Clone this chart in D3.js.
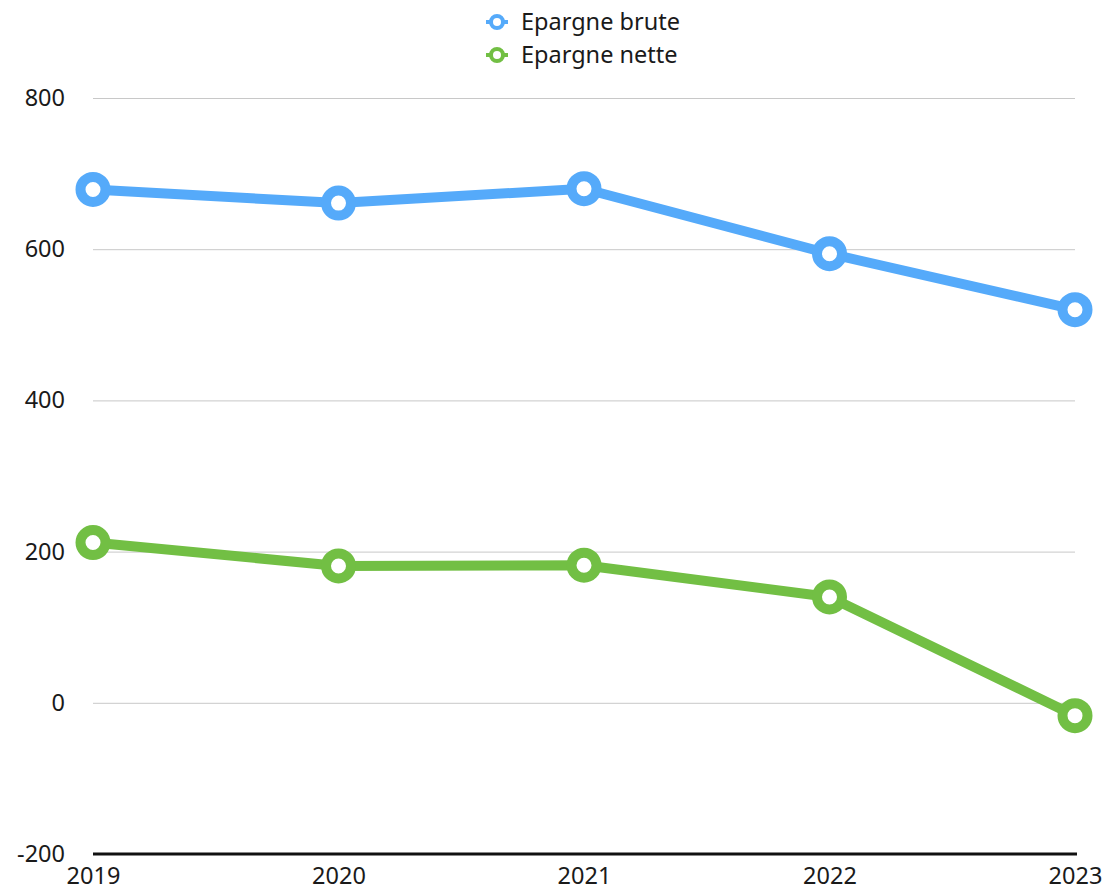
<!DOCTYPE html>
<html>
<head>
<meta charset="utf-8">
<script src="https://cdn.jsdelivr.net/npm/d3@7"></script>
<style>
	body { margin: 0; background: #fff; }
	text { font-family: "Noto Sans", "Open Sans", sans-serif; fill: #1a1a1a; }
</style>
</head>
<body>
<div id="chart"></div>
<script>
// Chart data
const years = ["2019", "2020", "2021", "2022", "2023"];
const epargneBrute = [679, 661, 680, 594, 520];
const epargneNette = [212, 181, 182, 140, -17];
const yTicks = [-200, 0, 200, 400, 600, 800];

const seriesList = [
	{ name: "Epargne brute", values: epargneBrute, color: "#55aafa" },
	{ name: "Epargne nette", values: epargneNette, color: "#72bf44" }
];

(function (d3) {
	"use strict";
	const width = 1115, height = 892;
	const margin = { top: 98, right: 40, bottom: 38, left: 93 };
	const fontSize = "23.5px";

	const svg = d3.select("#chart")
		.append("svg")
		.attr("width", width)
		.attr("height", height);

	const x = d3.scalePoint()
		.domain(years)
		.range([margin.left, width - margin.right]);
	const y = d3.scaleLinear()
		.domain([-200, 800])
		.range([height - margin.bottom, margin.top]);

	/*** grid lines + y labels ***/
	const yAxis = svg.append("g")
		.attr("transform", "translate(" + margin.left + ",0)")
		.call(d3.axisLeft(y).tickValues(yTicks)
			.tickFormat(d => String(d))
			.tickSize(-(width - margin.right - margin.left))
			.tickPadding(28));
	yAxis.select(".domain").remove();
	yAxis.selectAll(".tick line")
		.attr("stroke", d => d === -200 ? "none" : "#c8c8c8")
		.attr("stroke-width", 1);
	yAxis.selectAll(".tick text")
		.style("font-size", fontSize)
		.attr("fill", "#1a1a1a");

	/*** bottom axis ***/
	const xAxis = svg.append("g")
		.attr("transform", "translate(0," + y(-200) + ")")
		.call(d3.axisBottom(x).tickSize(0).tickPadding(13));
	xAxis.select(".domain")
		.attr("stroke", "#111")
		.attr("stroke-width", 3)
		.attr("d", "M" + margin.left + ",0H" + (width - margin.right + 2));
	xAxis.selectAll(".tick text")
		.style("font-size", fontSize)
		.attr("fill", "#1a1a1a");

	/*** lines ***/
	const line = d3.line()
		.x((d, i) => x(years[i]))
		.y(d => y(d));

	seriesList.forEach(s => {
		svg.append("path")
			.datum(s.values)
			.attr("fill", "none")
			.attr("stroke", s.color)
			.attr("stroke-width", 10)
			.attr("stroke-linejoin", "round")
			.attr("d", line);
		svg.selectAll(null)
			.data(s.values)
			.enter().append("circle")
			.attr("cx", (d, i) => x(years[i]))
			.attr("cy", d => y(d))
			.attr("r", 12.5)
			.attr("fill", "#fff")
			.attr("stroke", s.color)
			.attr("stroke-width", 10);
	});

	/*** legend ***/
	const legend = svg.append("g")
		.attr("transform", "translate(497,22)");
	seriesList.forEach((s, i) => {
		const g = legend.append("g").attr("transform", "translate(0," + (i * 33) + ")");
		g.append("line")
			.attr("x1", -11).attr("x2", 11)
			.attr("stroke", s.color).attr("stroke-width", 4);
		g.append("circle")
			.attr("r", 6)
			.attr("fill", "#fff")
			.attr("stroke", s.color)
			.attr("stroke-width", 4);
		g.append("text")
			.attr("x", 24)
			.attr("dy", "0.35em")
			.style("font-size", fontSize)
			.text(s.name);
	});
})(d3);
</script>
</body>
</html>
